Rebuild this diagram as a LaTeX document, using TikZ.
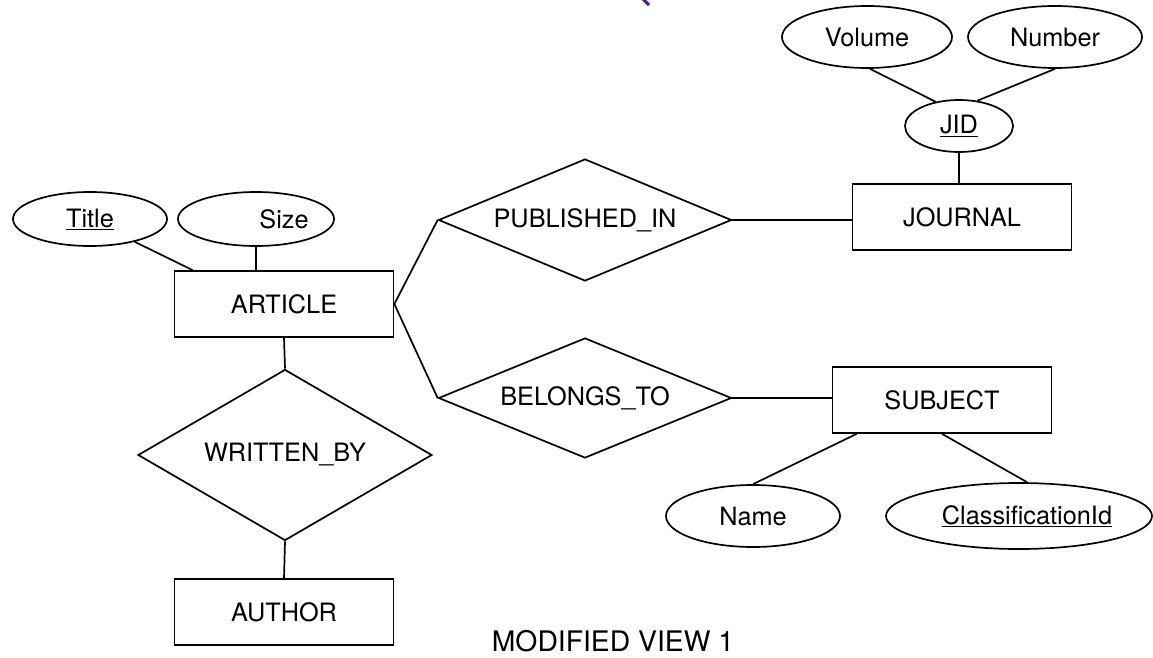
\documentclass[tikz,border=0pt]{standalone}
\usepackage{fontspec}
\setmainfont{TeX Gyre Heros}
\usetikzlibrary{shapes.geometric,calc}
\definecolor{inkpurple}{RGB}{78,28,140}
\begin{document}
\begin{tikzpicture}[x=1pt,y=-1pt,
  every node/.style={font=\fontsize{25.3}{30}\selectfont},
  conn/.style={line width=1.7pt},
  entity/.style={draw,line width=1.7pt,rectangle,inner sep=0pt,minimum width=219pt,minimum height=66pt},
  attr/.style={draw,line width=1.7pt,ellipse,inner sep=0pt},
  rel/.style={draw,line width=1.7pt,diamond,inner sep=0pt,aspect=2.4}]
\useasboundingbox (0,0) rectangle (1153,658);

% entities
\node[entity] (article) at (284,304) {ARTICLE};
\node[entity] (author)  at (284,612) {AUTHOR};
\node[entity] (journal) at (962,217) {JOURNAL};
\node[entity] (subject) at (942,400) {SUBJECT};

% relationships
\node[rel,minimum width=293pt,minimum height=122pt] (pub) at (585,220) {PUBLISHED\_IN};
\node[rel,minimum width=293pt,minimum height=120pt] (bel) at (585,398) {BELONGS\_TO};
\node[rel,aspect=1.7,minimum width=294pt,minimum height=171pt] (written) at (285,455) {WRITTEN\_BY};

% attributes
\node[attr,minimum width=154pt,minimum height=54pt] (title) at (90,219) {\underline{Title}};
\node[attr,minimum width=156pt,minimum height=54pt,
      label={[xshift=28pt]center:Size}] (size) at (256,219) {};
\node[attr,minimum width=108pt,minimum height=52pt] (jid) at (959,126) {\underline{JID}};
\node[attr,minimum width=170pt,minimum height=62pt] (volume) at (867,37) {Volume};
\node[attr,minimum width=174pt,minimum height=62pt] (number) at (1055,37) {Number};
\node[attr,minimum width=174pt,minimum height=62pt] (name) at (753,516) {Name};
\node[attr,minimum width=266pt,minimum height=66pt,
      label={[xshift=8pt]center:\underline{ClassificationId}}] (class) at (1019,516) {};

% connectors
\draw[conn] (title.-27) -- ($(article.north west)+(19,0)$);
\draw[conn] (size.south) -- (size.south |- article.north);
\draw[conn] (article.south) -- (written.north);
\draw[conn] (written.south) -- (author.north);
\draw[conn] (article.east) -- (pub.west);
\draw[conn] (article.east) -- (bel.west);
\draw[conn] (pub.east) -- (pub.east -| journal.west);
\draw[conn] (bel.east) -- (bel.east -| subject.west);
\draw[conn] (jid.south) -- (jid.south |- journal.north);
\draw[conn] ($(volume.south)+(3,0)$) -- (jid.134);
\draw[conn] (number.south) -- (jid.54);
\draw[conn] (name.north) -- ($(subject.south west)+(25,0)$);
\draw[conn] ($(class.north)+(8,0)$) -- (subject.south);

% caption
\node[font=\fontsize{28.3}{33}\selectfont] (caption) at (613,641) {MODIFIED VIEW 1};

% stray mark at the top edge
\draw[inkpurple,line width=3pt] (642,-2) .. controls (645,1) .. (649,5);
\end{tikzpicture}
\end{document}
